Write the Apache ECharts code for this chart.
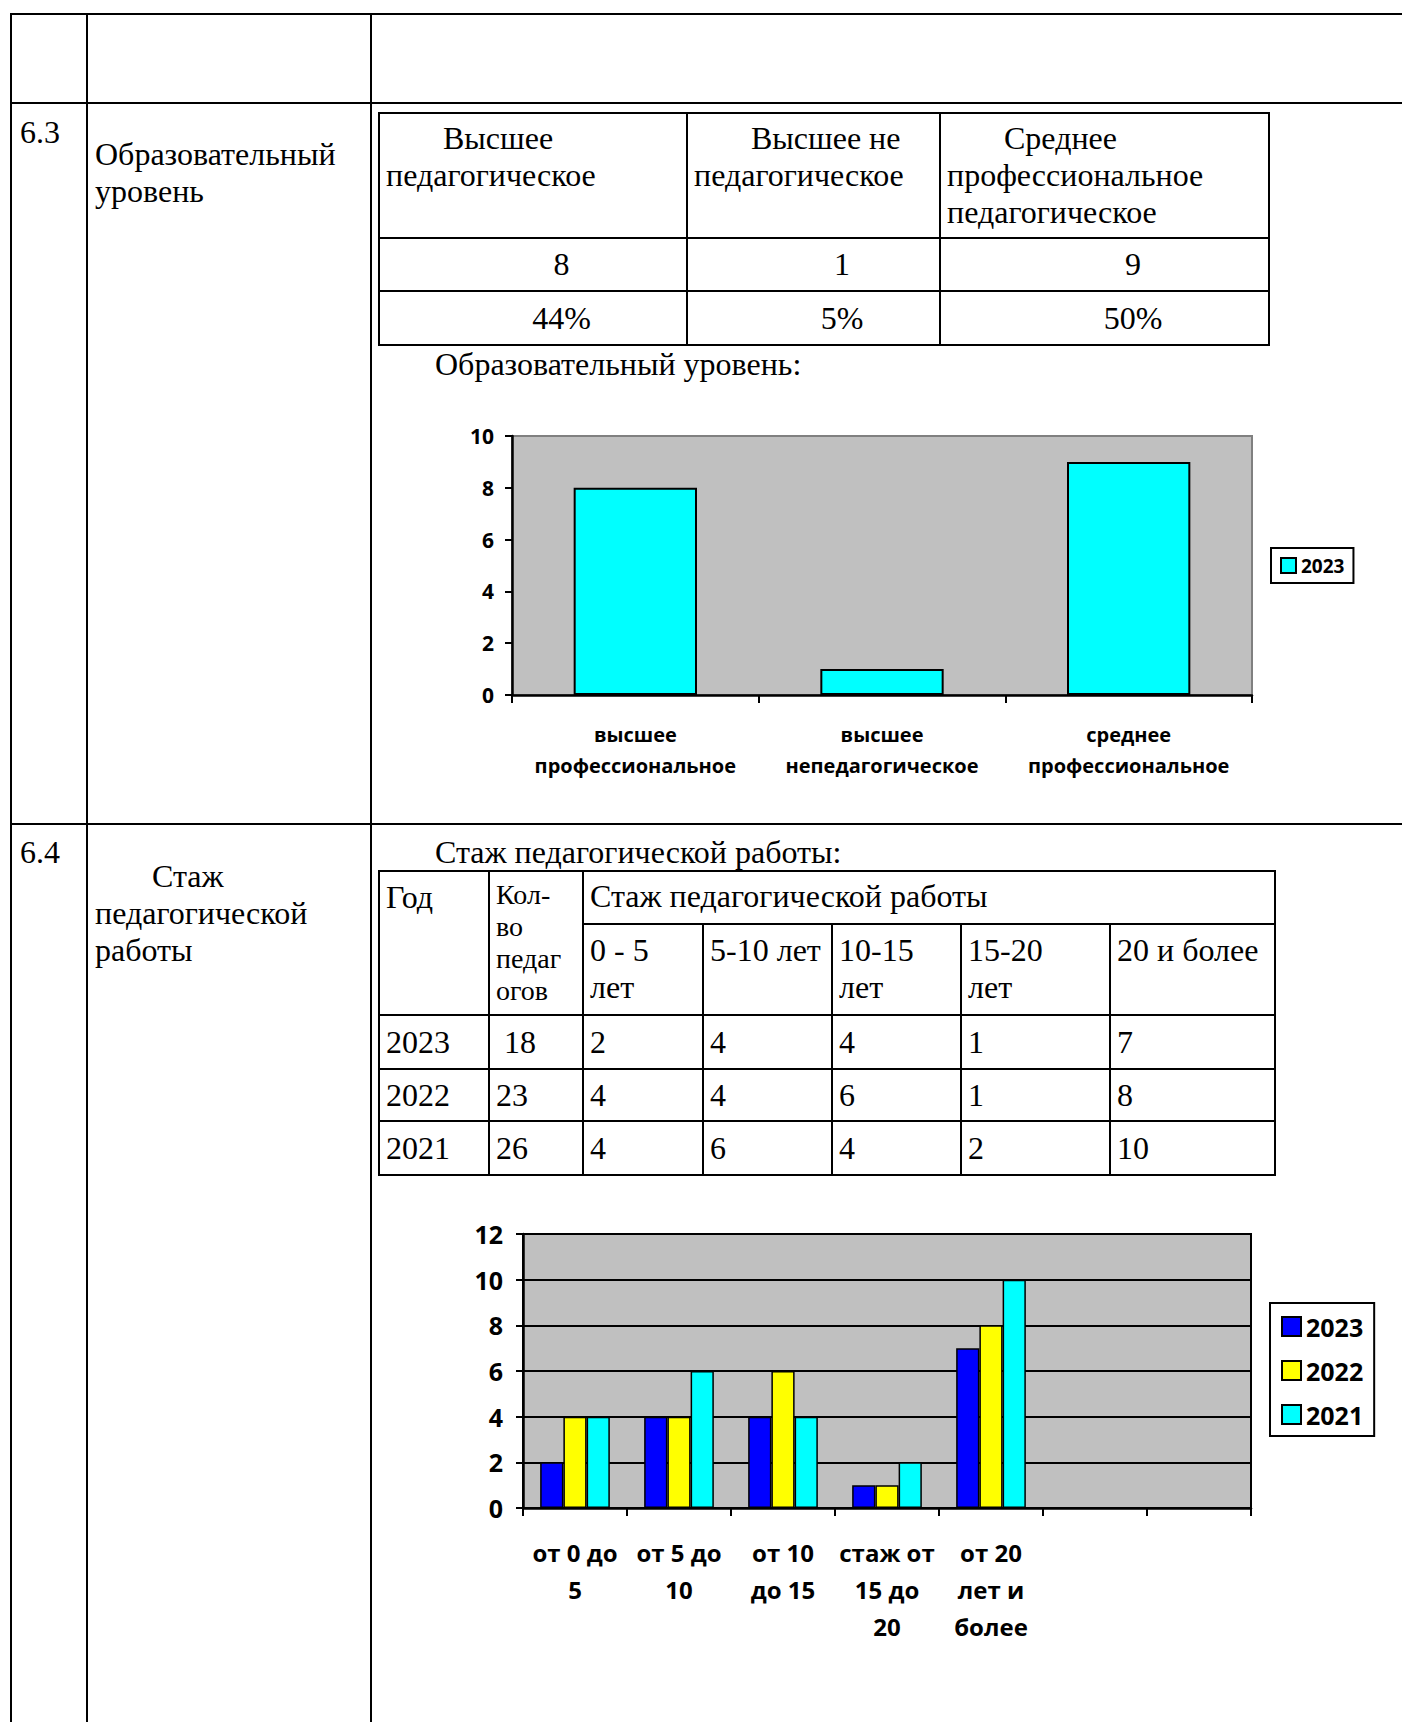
<!DOCTYPE html>
<html>
<head>
<meta charset="utf-8">
<script src="https://cdn.jsdelivr.net/npm/echarts@6/dist/echarts.min.js"></script>
<style>
  html,body{margin:0;padding:0;background:#fff;}
  #page{position:relative;width:1402px;height:1722px;overflow:hidden;background:#fff;
        font-family:"Liberation Serif","Times New Roman",serif;color:#000;}
  .ln{position:absolute;background:#000;}
  .tx{position:absolute;font-size:32px;line-height:36.8px;white-space:nowrap;}
  .cell{position:absolute;box-sizing:border-box;border:2px solid #000;font-size:32px;line-height:36.8px;}
  .chart{position:absolute;}
</style>
</head>
<body>
<div id="page">
  <div id="c1" class="chart" style="left:430px;top:400px;width:970px;height:400px;"></div>
  <div id="c2" class="chart" style="left:430px;top:1190px;width:970px;height:480px;"></div>
</div>
<script>
// ---------- data ----------
const eduTableHeaders = ['Высшее педагогическое', 'Высшее не педагогическое', 'Среднее профессиональное педагогическое'];
const eduCounts = [8, 1, 9];
const eduPercents = ['44%', '5%', '50%'];
const eduCategories = ['высшее\nпрофессиональное', 'высшее\nнепедагогическое', 'среднее\nпрофессиональное'];
const eduValues2023 = [8, 1, 9];
const eduYAxisTicks = [0, 2, 4, 6, 8, 10];

const stajYears = ['2023', '2022', '2021'];
const stajTotals = ['\u00a018', '23', '26'];
const stajTableHeaders = ['0 - 5\nлет', '5-10 лет', '10-15\nлет', '15-20\nлет', '20 и более'];
const stajCategories = ['от 0 до\n5', 'от 5 до\n10', 'от 10\nдо 15', 'стаж от\n15 до\n20', 'от 20\nлет и\nболее', '', ''];
const staj2023 = [2, 4, 4, 1, 7];
const staj2022 = [4, 4, 6, 1, 8];
const staj2021 = [4, 6, 4, 2, 10];
const stajYAxisTicks = [0, 2, 4, 6, 8, 10, 12];

// ---------- document layout ----------
const page = document.getElementById('page');
function ln(x, y, w, h) {
  const d = document.createElement('div');
  d.className = 'ln';
  d.style.cssText = `left:${x}px;top:${y}px;width:${w}px;height:${h}px;`;
  page.appendChild(d);
}
function tx(x, y, html, css) {
  const d = document.createElement('div');
  d.className = 'tx';
  d.style.cssText = `left:${x}px;top:${y}px;` + (css || '');
  d.innerHTML = html;
  page.appendChild(d);
  return d;
}
function cell(x1, y1, x2, y2, html, css) {
  const d = document.createElement('div');
  d.className = 'cell';
  d.style.cssText = `left:${x1 - 1}px;top:${y1 - 1}px;width:${x2 - x1 + 2}px;height:${y2 - y1 + 2}px;` + (css || '');
  d.innerHTML = html;
  page.appendChild(d);
  return d;
}
const br = s => s.replace(/\n/g, '<br>');

// outer document grid
ln(10, 13, 1392, 2);
ln(10, 102, 1392, 2);
ln(10, 823, 1392, 2);
ln(10, 13, 2, 1709);
ln(86, 13, 2, 1709);
ln(370, 13, 2, 1709);

// left column texts
tx(20, 114, '6.3');
tx(95, 136, 'Образовательный<br>уровень');
tx(20, 834, '6.4');
tx(95, 858, '<span style="padding-left:57px">Стаж</span><br>педагогической<br>работы');

// table 1
const t1Cols = [379, 687, 940, 1269];
const t1Rows = [113, 238, 291, 345];
for (let i = 0; i < 3; i++) {
  cell(t1Cols[i], t1Rows[0], t1Cols[i + 1], t1Rows[1], eduTableHeaders[i],
       'padding:6px 6px;text-indent:57px;');
  cell(t1Cols[i], t1Rows[1], t1Cols[i + 1], t1Rows[2], String(eduCounts[i]),
       'display:flex;align-items:center;justify-content:center;padding-left:57px;');
  cell(t1Cols[i], t1Rows[2], t1Cols[i + 1], t1Rows[3], eduPercents[i],
       'display:flex;align-items:center;justify-content:center;padding-left:57px;');
}
tx(435, 346, 'Образовательный уровень:');

// table 2
tx(435, 834, 'Стаж педагогической работы:');
const t2Cols = [379, 489, 583, 703, 832, 961, 1110, 1275];
const t2Rows = [871, 924, 1015, 1069, 1121, 1175];
cell(t2Cols[0], t2Rows[0], t2Cols[1], t2Rows[2], 'Год', 'padding:7px 6px;');
cell(t2Cols[1], t2Rows[0], t2Cols[2], t2Rows[2], 'Кол-<br>во<br>педаг<br>огов',
     'padding:7px 6px;font-size:28px;line-height:32px;');
cell(t2Cols[2], t2Rows[0], t2Cols[7], t2Rows[1], 'Стаж педагогической работы', 'padding:6px 6px;');
for (let i = 0; i < 5; i++) {
  cell(t2Cols[2 + i], t2Rows[1], t2Cols[3 + i], t2Rows[2], br(stajTableHeaders[i]),
       'padding:7px 6px;white-space:nowrap;');
}
const stajRows = [staj2023, staj2022, staj2021];
for (let r = 0; r < 3; r++) {
  const vals = [stajYears[r], stajTotals[r]].concat(stajRows[r].map(String));
  for (let c = 0; c < 7; c++) {
    cell(t2Cols[c], t2Rows[2 + r], t2Cols[c + 1], t2Rows[3 + r], vals[c],
         'display:flex;align-items:center;padding-left:6px;white-space:pre;');
  }
}

// ---------- charts ----------
const FONT = '"Open Sans", "Noto Sans", sans-serif';

const chart1 = echarts.init(document.getElementById('c1'), null, {renderer: 'svg'});
chart1.setOption({
  animation: false,
  textStyle: {fontFamily: FONT},
  grid: {
    left: 82, top: 36, width: 740, height: 259,
    show: true, backgroundColor: '#C0C0C0', borderColor: '#808080', borderWidth: 2,
    containLabel: false, outerBoundsMode: 'none'
  },
  legend: {
    show: true, orient: 'vertical', left: 841, top: 148,
    padding: [8, 9], borderColor: '#000', borderWidth: 2, backgroundColor: '#fff',
    itemWidth: 15, itemHeight: 15, icon: 'rect', itemGap: 10,
    itemStyle: {borderColor: '#000', borderWidth: 2},
    textStyle: {fontFamily: FONT, fontSize: 19, fontWeight: 'bold', color: '#000'},
    data: ['2023']
  },
  xAxis: {
    type: 'category', data: eduCategories, boundaryGap: true,
    axisLine: {show: true, lineStyle: {color: '#000', width: 2.5}},
    axisTick: {show: true, length: 8, alignWithLabel: false, lineStyle: {color: '#000', width: 2}},
    splitLine: {show: false},
    axisLabel: {interval: 0, color: '#000', fontFamily: FONT, fontWeight: 'bold', fontSize: 20, lineHeight: 31, margin: 24}
  },
  yAxis: {
    type: 'value', min: eduYAxisTicks[0], max: eduYAxisTicks[eduYAxisTicks.length - 1], interval: 2,
    axisLine: {show: true, lineStyle: {color: '#000', width: 2.5}},
    axisTick: {show: true, length: 7, lineStyle: {color: '#000', width: 2}},
    splitLine: {show: false},
    axisLabel: {color: '#000', fontFamily: FONT, fontWeight: 'bold', fontSize: 21, margin: 18}
  },
  series: [{
    name: '2023', type: 'bar', data: eduValues2023, barCategoryGap: '50%',
    itemStyle: {color: '#00FFFF', borderColor: '#000', borderWidth: 2}
  }]
});

const chart2 = echarts.init(document.getElementById('c2'), null, {renderer: 'svg'});
const barStyle = c => ({color: c, borderColor: '#000', borderWidth: 1.5});
chart2.setOption({
  animation: false,
  textStyle: {fontFamily: FONT},
  grid: {
    left: 93, top: 44, width: 728, height: 274,
    show: true, backgroundColor: '#C0C0C0', borderColor: '#000', borderWidth: 2,
    containLabel: false, outerBoundsMode: 'none'
  },
  legend: {
    show: true, orient: 'vertical', left: 840, top: 113,
    padding: [11, 11, 9, 11], borderColor: '#000', borderWidth: 2, backgroundColor: '#fff',
    itemWidth: 19, itemHeight: 19, icon: 'rect', itemGap: 19,
    itemStyle: {borderColor: '#000', borderWidth: 2},
    textStyle: {fontFamily: FONT, fontSize: 25, fontWeight: 'bold', color: '#000'},
    data: stajYears
  },
  xAxis: {
    type: 'category', data: stajCategories, boundaryGap: true,
    axisLine: {show: true, lineStyle: {color: '#000', width: 2.5}},
    axisTick: {show: true, length: 8, alignWithLabel: false, interval: 0, lineStyle: {color: '#000', width: 2}},
    splitLine: {show: false},
    axisLabel: {interval: 0, color: '#000', fontFamily: FONT, fontWeight: 'bold', fontSize: 24, lineHeight: 37, margin: 26}
  },
  yAxis: {
    type: 'value', min: stajYAxisTicks[0], max: stajYAxisTicks[stajYAxisTicks.length - 1], interval: 2,
    axisLine: {show: true, lineStyle: {color: '#000', width: 2.5}},
    axisTick: {show: true, length: 7, lineStyle: {color: '#000', width: 2}},
    splitLine: {show: true, lineStyle: {color: '#000', width: 2}},
    axisLabel: {color: '#000', fontFamily: FONT, fontWeight: 'bold', fontSize: 25, margin: 20}
  },
  series: [
    {name: stajYears[0], type: 'bar', data: staj2023, barGap: '0%', barCategoryGap: '33%', itemStyle: barStyle('#0000FF')},
    {name: stajYears[1], type: 'bar', data: staj2022, barGap: '0%', barCategoryGap: '33%', itemStyle: barStyle('#FFFF00')},
    {name: stajYears[2], type: 'bar', data: staj2021, barGap: '0%', barCategoryGap: '33%', itemStyle: barStyle('#00FFFF')}
  ]
});
</script>
</body>
</html>
